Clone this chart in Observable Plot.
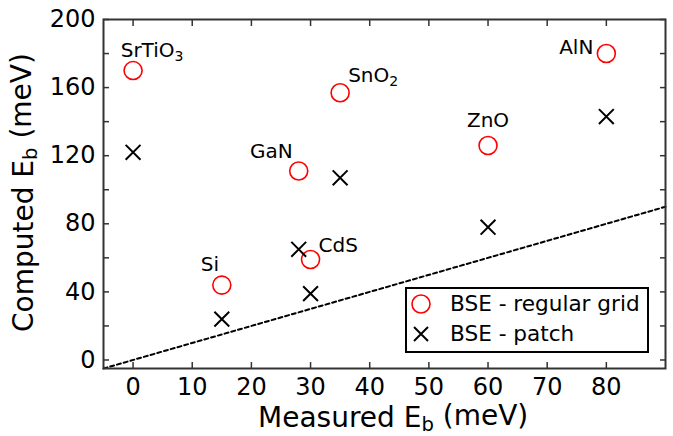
<!DOCTYPE html>
<html><head><meta charset="utf-8">
<script src="https://cdn.jsdelivr.net/npm/d3@7"></script>
<script src="https://cdn.jsdelivr.net/npm/@observablehq/plot@0.6"></script>
<style>
body{margin:0;background:#fff;font-family:"DejaVu Sans",sans-serif;}
#wrap{position:relative;width:673px;height:436px;}
</style></head><body><div id="wrap"></div>
<script>
// Data
const materials = ["SrTiO₃", "GaN", "SnO₂", "ZnO", "AlN", "Si", "CdS"];
const measuredGrid = [0, 28, 35, 60, 80, 15, 30];
const computedGrid = [170, 111, 157, 126, 180, 44, 59];
const measuredPatch = [0, 35, 80, 60, 28, 30, 15];
const computedPatch = [122, 107, 143, 78, 65, 39, 24];
const referenceLine = [-5, 90];           // y = x
const xTicks = [0, 10, 20, 30, 40, 50, 60, 70, 80];
const yTicks = [0, 40, 80, 120, 160, 200];
const yMinorTicks = [0, 20, 40, 60, 80, 100, 120, 140, 160, 180, 200];
const seriesNames = ["BSE - regular grid", "BSE - patch"];

const grid = materials.map((m, i) => ({name: m, x: measuredGrid[i], y: computedGrid[i]}));
const patch = measuredPatch.map((x, i) => ({x, y: computedPatch[i]}));

// label placement (layout only)
const labelLayout = {
  "SrTiO₃": {textAnchor: "middle", dx: 19, dy: -20},
  "GaN": {textAnchor: "end", dx: -6, dy: -19},
  "SnO₂": {textAnchor: "start", dx: 8, dy: -17},
  "ZnO": {textAnchor: "middle", dx: 0, dy: -25},
  "AlN": {textAnchor: "end", dx: -13, dy: -6},
  "Si": {textAnchor: "middle", dx: -12, dy: -20},
  "CdS": {textAnchor: "start", dx: 8, dy: -14}
};

const axisColor = "#333";
const labelMarks = grid.map(d => Plot.text([d], {
  x: "x", y: "y", text: "name", fontSize: 20, fill: "#000", ...labelLayout[d.name]
}));

const W = 673, H = 436, mL = 103, mR = 8, mT = 19, mB = 68;

const chart = Plot.plot({
  width: W, height: H,
  marginLeft: mL, marginRight: mR, marginTop: mT, marginBottom: mB,
  x: {domain: [-5, 90]},
  y: {domain: [-5, 200]},
  style: {fontFamily: "DejaVu Sans", fontSize: "24px", color: "#000", background: "#fff", overflow: "visible"},
  marks: [
    Plot.line(referenceLine, {x: d => d, y: d => d, stroke: "#000", strokeWidth: 2, strokeDasharray: "4,3"}),
    Plot.dot(grid, {x: "x", y: "y", r: 9, symbol: "circle", stroke: "#f00", strokeWidth: 1.6, fill: "none"}),
    Plot.dot(patch, {x: "x", y: "y", r: 6.8, symbol: "times", stroke: "#000", strokeWidth: 2}),
    ...labelMarks,
    Plot.axisX(xTicks, {anchor: "bottom", tickSize: -6, tickPadding: 15, label: null, fontSize: 24, stroke: axisColor, strokeWidth: 1.5}),
    Plot.axisX(xTicks, {anchor: "top", tickSize: -6, tickFormat: () => "", label: null, stroke: axisColor, strokeWidth: 1.5}),
    Plot.axisY(yMinorTicks, {anchor: "left", tickSize: -6, tickPadding: 14, label: null, fontSize: 24, stroke: axisColor, strokeWidth: 1.5,
      tickFormat: d => yTicks.includes(d) ? String(d) : ""}),
    Plot.axisY(yMinorTicks, {anchor: "right", tickSize: -6, tickFormat: () => "", label: null, stroke: axisColor, strokeWidth: 1.5}),
    Plot.frame({stroke: axisColor, strokeWidth: 2})
  ]
});

document.getElementById("wrap").appendChild(chart);
const svg = d3.select(chart);

// Render Unicode subscript digits in labels as real subscripts
const subDigits = "₀₁₂₃₄₅₆₇₈₉";
svg.selectAll("text").each(function () {
  const t = this.textContent;
  const m = t.match(/^(.*?)([₀-₉]+)$/);
  if (!m || this.children.length) return;
  const digits = [...m[2]].map(c => subDigits.indexOf(c)).join("");
  const sel = d3.select(this);
  sel.text(null);
  sel.append("tspan").text(m[1]);
  sel.append("tspan").attr("font-size", "0.7em").attr("dy", "0.3em").text(digits);
});

// Axis titles with subscripts
function title(sel, main, sub, rest) {
  sel.append("tspan").text(main);
  sel.append("tspan").attr("font-size", "0.7em").attr("dy", "0.22em").text(sub);
  sel.append("tspan").attr("dy", "-0.22em").text(rest);
}
const xt = svg.append("text").attr("x", 258).attr("y", 427).attr("text-anchor", "start")
  .attr("font-size", 28).attr("fill", "#000").attr("font-family", "DejaVu Sans");
title(xt, "Measured E", "b", " (meV)");
const yt = svg.append("text").attr("transform", "translate(33,332) rotate(-90)").attr("text-anchor", "start")
  .attr("font-size", 28).attr("fill", "#000").attr("font-family", "DejaVu Sans");
title(yt, "Computed E", "b", " (meV)");

// Legend
const lg = svg.append("g").attr("font-family", "DejaVu Sans").attr("font-size", 21.6).attr("text-anchor", "start");
lg.append("rect").attr("x", 406).attr("y", 288).attr("width", 242).attr("height", 64)
  .attr("fill", "#fff").attr("stroke", "#000").attr("stroke-width", 2);
lg.append("circle").attr("cx", 421).attr("cy", 304).attr("r", 9)
  .attr("fill", "none").attr("stroke", "#f00").attr("stroke-width", 1.6);
lg.append("path").attr("d", "M414,327L428,341M428,327L414,341")
  .attr("stroke", "#000").attr("stroke-width", 2);
lg.append("text").attr("x", 450).attr("y", 311).attr("fill", "#000").text(seriesNames[0]);
lg.append("text").attr("x", 450).attr("y", 341).attr("fill", "#000").text(seriesNames[1]);
</script></body></html>
